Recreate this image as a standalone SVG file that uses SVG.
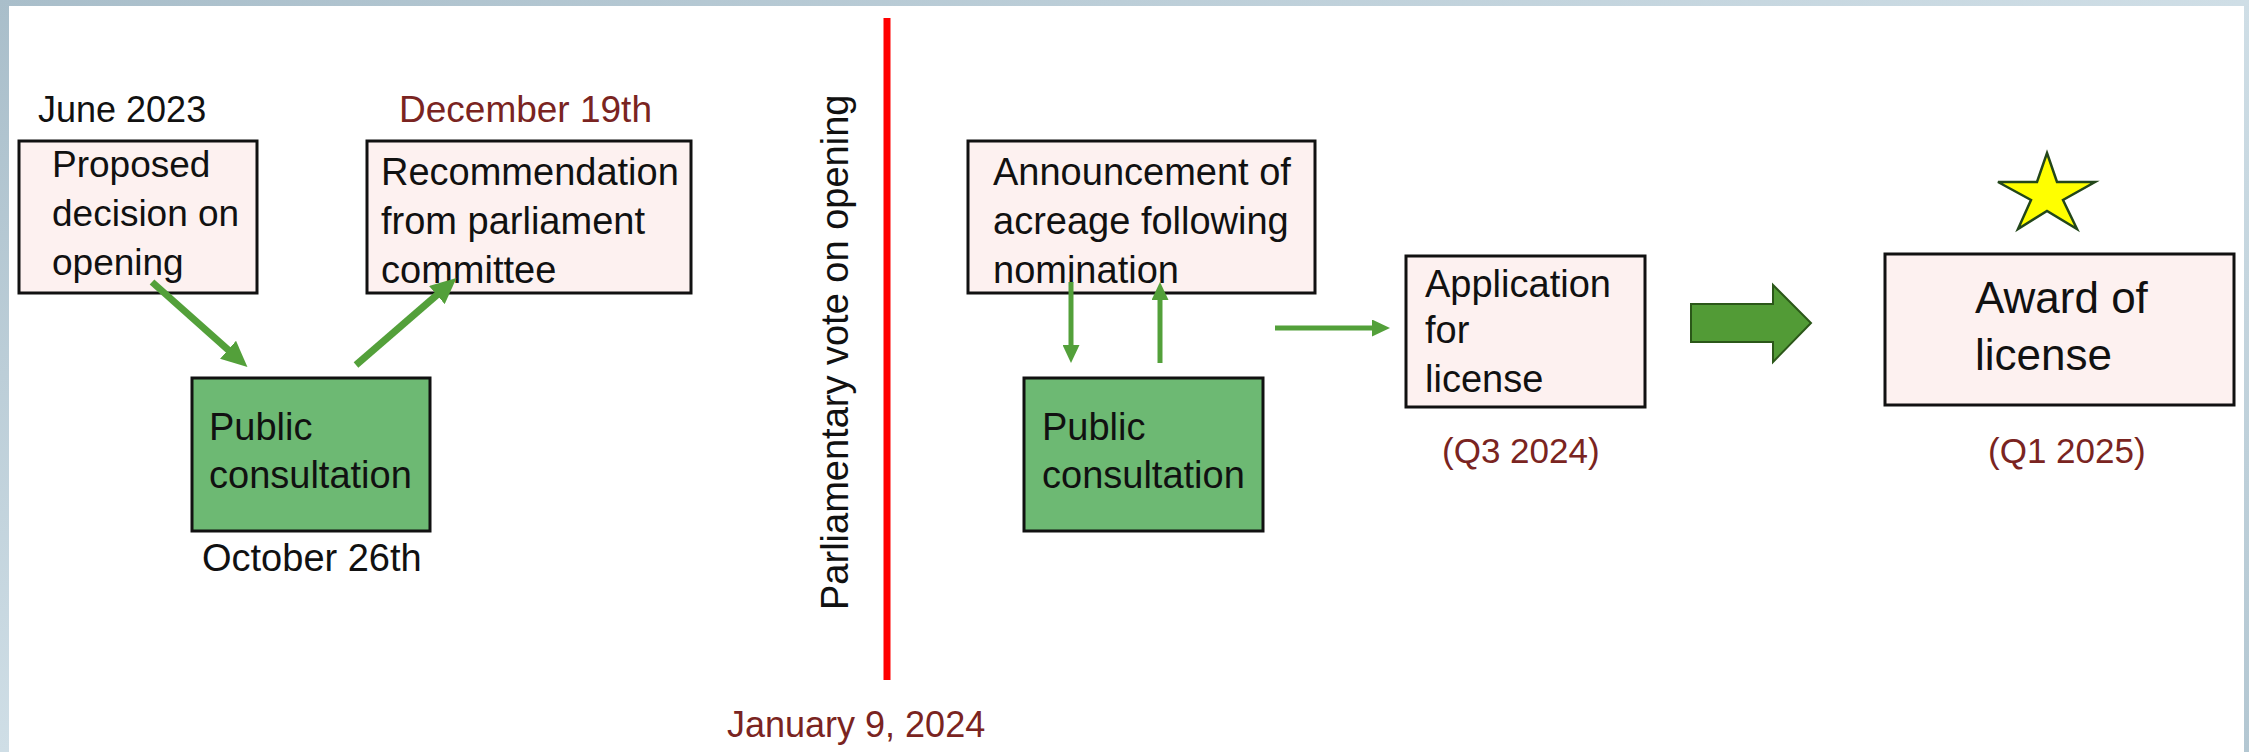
<svg xmlns="http://www.w3.org/2000/svg" width="2249" height="752" viewBox="0 0 2249 752">
<defs>
<linearGradient id="bg" x1="0" y1="0" x2="1" y2="1">
<stop offset="0" stop-color="#A9BECA"/>
<stop offset="0.5" stop-color="#CFDEE6"/>
<stop offset="1" stop-color="#B3C7D2"/>
</linearGradient>
<marker id="headS" markerUnits="userSpaceOnUse" markerWidth="18" markerHeight="17" refX="6" refY="8.5" orient="auto">
<path d="M0,0 L18,8.5 L0,17 z" fill="#53A03A"/>
</marker>
<marker id="headL" markerUnits="userSpaceOnUse" markerWidth="26" markerHeight="24" refX="10" refY="12" orient="auto">
<path d="M0,0 L26,12 L0,24 z" fill="#53A03A"/>
</marker>
</defs>
<style>
.t{font-family:"Liberation Sans",Arial,sans-serif;fill:#111;}
.d{font-family:"Liberation Sans",Arial,sans-serif;fill:#7A2421;}
.pink{fill:#FDF1F0;stroke:#111;stroke-width:3;}
.green{fill:#6DB973;stroke:#111;stroke-width:3;}
.conn{stroke:#53A03A;fill:none;}
</style>
<rect x="0" y="0" width="2249" height="752" fill="url(#bg)"/>
<rect x="9" y="6" width="2235" height="746" fill="#FFFFFF"/>

<line x1="887" y1="18" x2="887" y2="680" stroke="#FF0000" stroke-width="7"/>
<text class="t" font-size="38" transform="translate(848,610) rotate(-90)">Parliamentary vote on opening</text>
<text class="d" font-size="36" x="727" y="737">January 9, 2024</text>

<text class="t" font-size="36" x="38" y="122">June 2023</text>
<text class="d" font-size="37" x="399" y="122">December 19th</text>
<text class="t" font-size="38" x="202" y="571">October 26th</text>
<text class="d" font-size="35" x="1442" y="463">(Q3 2024)</text>
<text class="d" font-size="35" x="1988" y="463">(Q1 2025)</text>

<g id="proposed">
<rect class="pink" x="19" y="141" width="238" height="152"/>
<text class="t" font-size="37"><tspan x="52" y="177">Proposed</tspan><tspan x="52" y="226">decision on</tspan><tspan x="52" y="275">opening</tspan></text>
</g>
<g id="recommendation">
<rect class="pink" x="367" y="141" width="324" height="152"/>
<text class="t" font-size="38"><tspan x="381" y="185">Recommendation</tspan><tspan x="381" y="234">from parliament</tspan><tspan x="381" y="283">committee</tspan></text>
</g>
<g id="consult1">
<rect class="green" x="192" y="378" width="238" height="153"/>
<text class="t" font-size="38"><tspan x="209" y="440">Public</tspan><tspan x="209" y="488">consultation</tspan></text>
</g>
<g id="announcement">
<rect class="pink" x="968" y="141" width="347" height="152"/>
<text class="t" font-size="38"><tspan x="993" y="185">Announcement of</tspan><tspan x="993" y="234">acreage following</tspan><tspan x="993" y="283">nomination</tspan></text>
</g>
<g id="consult2">
<rect class="green" x="1024" y="378" width="239" height="153"/>
<text class="t" font-size="38"><tspan x="1042" y="440">Public</tspan><tspan x="1042" y="488">consultation</tspan></text>
</g>
<g id="application">
<rect class="pink" x="1406" y="256" width="239" height="151"/>
<text class="t" font-size="38"><tspan x="1425" y="297">Application</tspan><tspan x="1425" y="343">for</tspan><tspan x="1425" y="392">license</tspan></text>
</g>
<g id="award">
<rect class="pink" x="1885" y="254" width="349" height="151"/>
<text class="t" font-size="44"><tspan x="1975" y="313">Award of</tspan><tspan x="1975" y="370">license</tspan></text>
</g>
<g id="star">
<polygon points="2047,153 2057,182 2095,182 2063,200 2077,229 2047,211 2018,229 2031,200 1998,182 2037,182" fill="#FFFF00" stroke="#23471A" stroke-width="2.5"/>
</g>

<g id="connectors">
<path class="conn" stroke-width="7" d="M152,282 L235.5,356.4" marker-end="url(#headL)"/>
<path class="conn" stroke-width="7" d="M356,365 L444.4,288.5" marker-end="url(#headL)"/>
<path class="conn" stroke-width="5" d="M1071,282 L1071,351" marker-end="url(#headS)"/>
<path class="conn" stroke-width="5" d="M1160,363 L1160,294" marker-end="url(#headS)"/>
<path class="conn" stroke-width="5" d="M1275,328 L1378,328" marker-end="url(#headS)"/>
<polygon points="1691,304 1773,304 1773,285 1811,323 1773,362 1773,342 1691,342" fill="#529B36" stroke="#2B5719" stroke-width="2"/>
</g>
</svg>
